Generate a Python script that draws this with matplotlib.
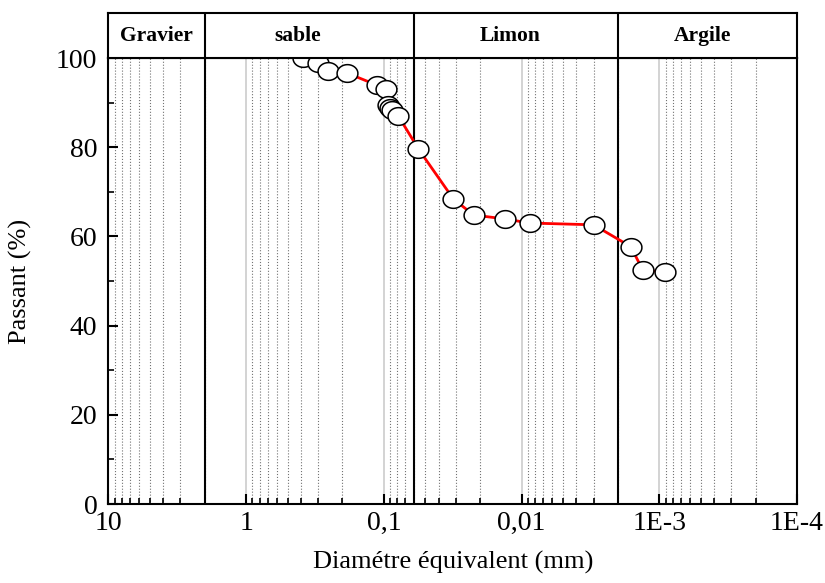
import numpy as np
import matplotlib
matplotlib.use("Agg")
import matplotlib.pyplot as plt
from matplotlib.path import Path
from matplotlib.ticker import FixedLocator, NullFormatter, LogLocator

plt.rcParams['font.family'] = ['Liberation Serif', 'DejaVu Serif']

# grain size distribution
diam = [0.385, 0.30, 0.254, 0.184, 0.112, 0.096, 0.0935, 0.091, 0.088, 0.0785,
        0.0561, 0.0313, 0.0223, 0.0131, 0.00875, 0.0030, 0.00161, 0.00132, 0.00091]
passant = [100.0, 98.9, 97.1, 96.6, 93.9, 93.0, 89.5, 88.8, 88.3, 87.0,
           79.6, 68.4, 64.8, 63.9, 63.0, 62.6, 57.7, 52.5, 52.0]

# class limits (mm) and names
limits = [2, 0.06, 0.002]
classes = ["Gravier", "sable", "Limon", "Argile"]
class_pos = [4.47, 0.4256, 0.0122, 4.83e-4]

xticks = [10, 1, 0.1, 0.01, 1e-3, 1e-4]
xticklabels = ["10", "1", "0,1", "0,01", "1E-3", "1E-4"]

fig = plt.figure(figsize=(8.25, 5.83), dpi=100)
ax = fig.add_axes([0.1315, 0.1355, 0.8345, 0.765])
axh = fig.add_axes([0.1315, 0.9005, 0.8345, 0.0772])

for a in (ax, axh):
    a.set_xscale('log')
    a.set_xlim(10, 1e-4)
    for s in a.spines.values():
        s.set_linewidth(1.5)
    for lim in limits:
        a.axvline(lim, color='black', lw=1.5, zorder=3)

# header
axh.set_ylim(0, 1)
axh.set_xticks([])
axh.set_yticks([])
axh.xaxis.set_minor_locator(FixedLocator([]))
for name, xp in zip(classes, class_pos):
    axh.text(xp, 0.5, name, ha='center', va='center', fontsize=15.5, fontweight='bold')

# main plot
ax.set_ylim(0, 100)
ax.set_yticks([0, 20, 40, 60, 80, 100])
ax.yaxis.set_minor_locator(FixedLocator([10, 30, 50, 70, 90]))
ax.set_xticks(xticks)
ax.set_xticklabels(xticklabels)
ax.xaxis.set_minor_locator(LogLocator(base=10, subs=np.arange(2, 10), numticks=20))
ax.xaxis.set_minor_formatter(NullFormatter())
ax.tick_params(which='major', direction='in', length=7, width=1.5, labelsize=20, pad=5)
ax.tick_params(axis='y', which='major', pad=8)
ax.tick_params(which='minor', direction='in', length=4, width=1.2)
ax.grid(True, which='major', axis='x', color='0.8', lw=1.2, ls='-')
ax.grid(True, which='minor', axis='x', color='0.45', lw=0.8, ls=':')

ax.plot(diam, passant, color='red', lw=2, zorder=4, clip_on=False)

t = np.linspace(0, 2 * np.pi, 60)
ell = Path(np.column_stack([np.cos(t), 0.85 * np.sin(t)]))
ax.plot(diam, passant, ls='none', marker=ell, markersize=15, markerfacecolor='white',
        markeredgecolor='black', markeredgewidth=1.1, zorder=5)

ax.set_xlabel("Diamétre équivalent (mm)", fontsize=19)
ax.set_ylabel("Passant (%)", fontsize=19)
ax.xaxis.set_label_coords(0.5, -0.105)
ax.yaxis.set_label_coords(-0.111, 0.5)

fig.savefig("out.png", dpi=100)
